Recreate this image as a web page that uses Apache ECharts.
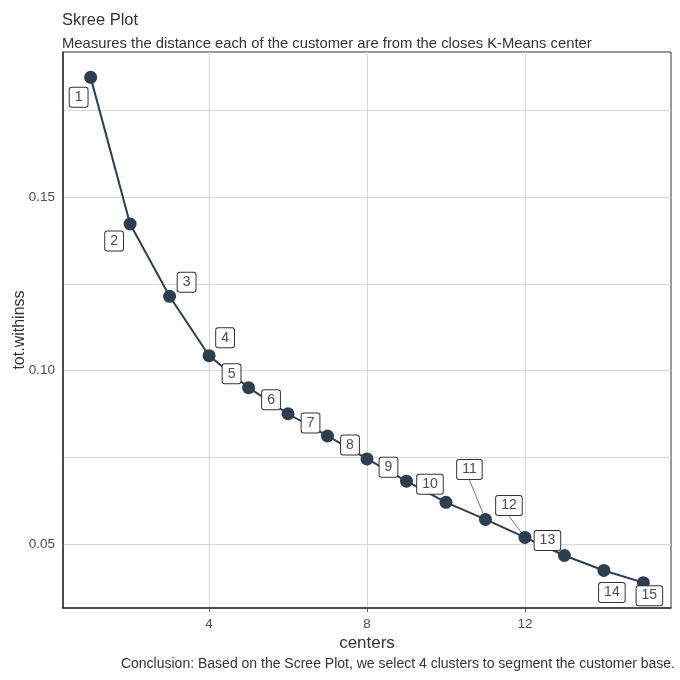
<!DOCTYPE html>
<html>
<head>
<meta charset="utf-8">
<script src="https://cdn.jsdelivr.net/npm/echarts@6/dist/echarts.min.js"></script>
<style>html,body{margin:0;padding:0;background:#fff}#c{width:680px;height:680px}</style>
</head>
<body>
<div id="c"></div>
<script>
// ---- data ----
var centers = [1,2,3,4,5,6,7,8,9,10,11,12,13,14,15];
var totWithinss = [0.1844,0.1422,0.1214,0.1043,0.0951,0.0876,0.0812,0.0746,0.0682,0.0621,0.0572,0.0520,0.0468,0.0425,0.0390];
var xTicks = [4,8,12];
var yTickLabels = [0.05,0.10,0.15];
var yGridValues = [0.05,0.075,0.10,0.125,0.15,0.175];
var titleText = 'Skree Plot';
var subtitleText = 'Measures the distance each of the customer are from the closes K-Means center';
var captionText = 'Conclusion: Based on the Scree Plot, we select 4 clusters to segment the customer base.';

// ---- label placement (styling) ----
var labelOffsets = [[-12,20],[-16,17],[17,-14],[16,-18],[-17,-14],[-17,-14],[-17,-13],[-17,-14],[-18,-14],[-16,-18],[-16,-50],[-16,-32],[-17,-15],[8,22],[6,13]];
var leaderIdx = [10,11];

var FONT = 'Liberation Sans, Arial, sans-serif';
var NAVY = '#2c3e50';

var seriesData = centers.map(function(c,i){
  var item = {value:[c,totWithinss[i]]};
  if (leaderIdx.indexOf(i) >= 0) {
    item.labelLine = {show:true, lineStyle:{color:'#555', width:0.8}};
  }
  return item;
});

var chart = echarts.init(document.getElementById('c'), null, {renderer:'canvas'});
chart.setOption({
  animation:false,
  backgroundColor:'#fff',
  title:[
    {text:titleText, left:57, top:7, textStyle:{fontFamily:FONT, fontSize:16.5, fontWeight:'normal', color:'#333'}},
    {text:subtitleText, left:57, top:31, textStyle:{fontFamily:FONT, fontSize:14.8, fontWeight:'normal', color:'#333'}},
    {text:captionText, right:0, top:652, textStyle:{fontFamily:FONT, fontSize:14, fontWeight:'normal', color:'#333'}}
  ],
  grid:{left:63, right:9, top:52, bottom:72, show:true, borderColor:'#333', borderWidth:1, containLabel:false, outerBoundsMode:'none'},
  xAxis:{
    type:'value', min:0.3, max:15.7,
    name:'centers', nameLocation:'middle', nameGap:27, nameMoveOverlap:false,
    nameTextStyle:{fontFamily:FONT, fontSize:17, color:'#333'},
    axisLine:{show:true, lineStyle:{color:'#333', width:1.5}},
    axisTick:{show:true, length:4, customValues:xTicks, lineStyle:{color:'#555'}},
    axisLabel:{customValues:xTicks, margin:9, fontFamily:FONT, fontSize:13.5, color:'#4d4d4d'},
    splitLine:{show:true, lineStyle:{color:'#d9d9d9', width:1}}
  },
  yAxis:{
    type:'value', min:0.0317, max:0.1917,
    name:'tot.withinss', nameLocation:'middle', nameGap:35, nameMoveOverlap:false,
    nameTextStyle:{fontFamily:FONT, fontSize:16, color:'#333'},
    axisLine:{show:true, lineStyle:{color:'#333', width:1.5}},
    axisTick:{show:false, customValues:yGridValues},
    axisLabel:{customValues:yTickLabels, margin:8, fontFamily:FONT, fontSize:13.5, color:'#4d4d4d',
      formatter:function(v){return v.toFixed(2);}},
    splitLine:{show:true, lineStyle:{color:'#d9d9d9', width:1}}
  },
  series:[{
    type:'line',
    data:seriesData,
    symbol:'circle', symbolSize:13,
    itemStyle:{color:NAVY},
    lineStyle:{color:NAVY, width:2},
    label:{
      show:true, position:'inside',
      formatter:function(p){return String(p.value[0]);},
      fontFamily:FONT, fontSize:14, color:'#4d4d4d',
      backgroundColor:'#fff', borderColor:'#333', borderWidth:1, borderRadius:2,
      padding:[3,5,2,5]
    },
    labelLine:{show:false},
    labelLayout:function(p){
      var o = labelOffsets[p.dataIndex];
      return {dx:o[0], dy:o[1]};
    }
  }]
});
</script>
</body>
</html>
